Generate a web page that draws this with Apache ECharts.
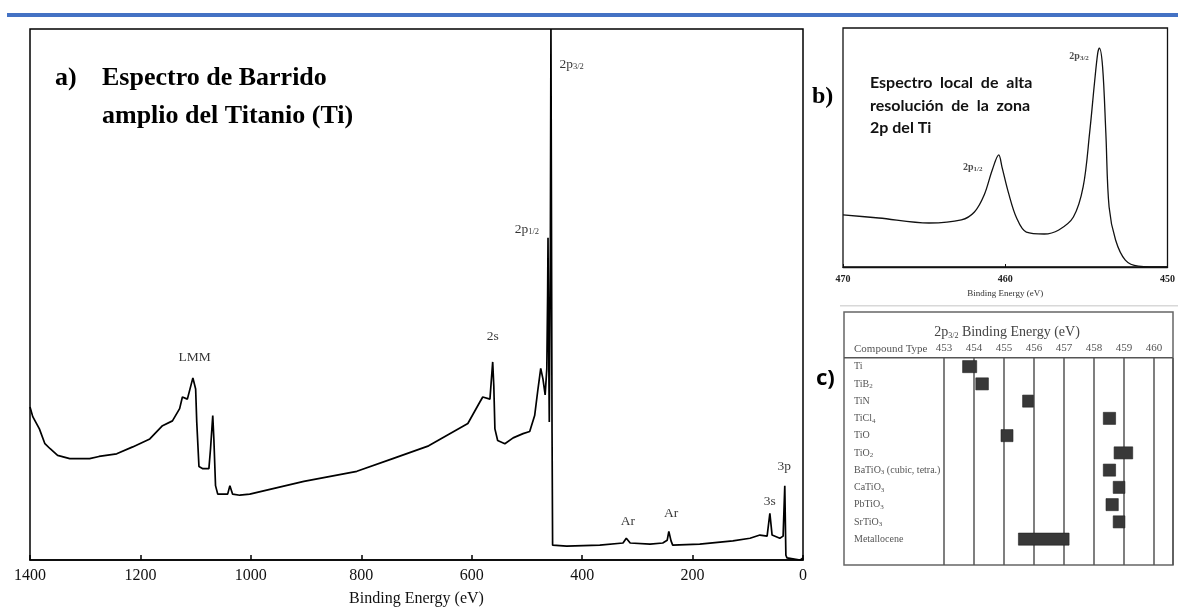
<!DOCTYPE html>
<html><head><meta charset="utf-8">
<script src="https://cdn.jsdelivr.net/npm/echarts@6/dist/echarts.min.js"></script>
<style>html,body{margin:0;padding:0;background:#fff}#c{width:1178px;height:612px}</style>
</head><body><div id="c"></div>
<script>
// ---------- Panel a: wide survey spectrum ----------
const surveyBE = [1400,1395,1383,1373,1364,1350,1328,1292,1275,1243,1214,1183,1160,1142,1129,1124,1115,1105,1100,1098,1094,1087,1076,1073,1069,1067,1064,1060,1042,1038,1033,1020,1002,904,808,743,678,607,585,580,567,562,560,558,553,540,525,507,495,486,480,475,471,467,464,462.5,461.8,461,459.5,458.5,457.5,456.5,455.5,454.5,453.5,428,368,326,320,313,277,254,246,243,239,236,187,127,96,78,65,60,56,42,36,33,31,29,5,0];
const surveyCounts = [28.8,27.0,24.7,21.9,21.0,19.7,19.1,19.1,19.5,20.0,21.3,22.8,25.3,26.2,28.5,30.7,30.3,34.3,32.2,26.0,17.6,17.2,17.2,21.0,27.2,22.8,14.0,12.4,12.4,14.0,12.4,12.2,12.4,14.8,16.7,19.1,21.5,25.7,29.8,30.7,30.3,37.3,32.8,24.7,22.5,21.9,23.0,23.8,24.2,27.2,32.2,36.1,34.1,31.1,36.0,50,60.7,45,26,26,60,100,100,24,2.8,2.6,2.8,3.2,4.1,3.2,3.0,3.2,3.7,5.4,3.6,2.8,3.0,3.6,4.1,4.7,4.5,8.8,4.7,4.1,4.5,14.0,0.9,0.4,0,0.4];
const surveyTicks = [1400,1200,1000,800,600,400,200,0];
const surveyLabels = ['LMM','2s','2p1/2','2p3/2','Ar','Ar','3s','3p'];
const surveyLabelBE = [1102,562,500,419,317,239,60,34];
const surveyLabelY = [38.2,42.1,62.2,93.4,7.3,8.8,11.0,17.6];

// ---------- Panel b: high resolution Ti 2p ----------
const hiresBE = [470,467.8,464.7,462.7,461.9,461.3,460.8,460.4,460.2,459.8,459.3,458.7,457.6,456.7,455.8,455.2,454.8,454.5,454.3,454.2,454.0,453.8,453.6,453.2,452.6,451.8,450];
const hiresCounts = [21.8,20.5,18.4,19.7,23.0,30.1,40.6,46.9,41.8,31.0,20.5,14.6,13.8,15.5,20.9,33.5,56.1,77.0,89.5,91.6,83.7,56.1,25.1,11.3,2.9,0.4,0];
const hiresLabels = ['2p3/2','2p1/2'];
const hiresLabelBE = [455.45,462.0];
const hiresLabelY = [88.3,41.8];

// ---------- Panel c: 2p3/2 binding energy table ----------
const compounds = ['Ti','TiB2','TiN','TiCl4','TiO','TiO2','BaTiO3 (cubic, tetra.)','CaTiO3','PbTiO3','SrTiO3','Metallocene'];
const rangeLow  = [453.62,454.06,455.62,458.31,454.90,458.67,458.31,458.64,458.40,458.64,455.48];
const rangeHigh = [454.09,454.48,455.98,458.72,455.30,459.29,458.72,459.03,458.81,459.03,457.17];

const serif = 'Liberation Serif';
const pSub = t => t.replace(/(\d\/\d)$/, '{s|$1}');
const dSub = t => t.replace(/(\d)/g, '{s|$1}');

const chart = echarts.init(document.getElementById('c'));

const surveyData = surveyBE.map((e,i)=>[e, surveyCounts[i]]);
const hiresData = hiresBE.map((e,i)=>[e, hiresCounts[i]]);
const surveyLabelData = surveyLabels.map((t,i)=>({value:[surveyLabelBE[i], surveyLabelY[i]], name:t}));
const hiresLabelData = hiresLabels.map((t,i)=>({value:[hiresLabelBE[i], hiresLabelY[i]], name:t}));
const tableData = compounds.map((c,i)=>[rangeLow[i], rangeHigh[i], i]);

const option = {
  animation:false,
  backgroundColor:'#fff',
  grid:[
    {left:30, top:29, width:773, height:533, show:true, borderColor:'#000', borderWidth:1.5, backgroundColor:'transparent'},
    {left:843, top:28, width:330, height:239, show:true, borderColor:'#111', borderWidth:1.3, backgroundColor:'transparent'},
    {left:944, top:358, width:229, height:207, show:false}
  ],
  xAxis:[
    {gridIndex:0, type:'value', inverse:true, min:0, max:1400, interval:200,
     axisLine:{show:true, lineStyle:{color:'#000', width:1.5}},
     axisTick:{show:true, inside:true, length:5, lineStyle:{color:'#000', width:1.5}},
     axisLabel:{color:'#111', fontFamily:serif, fontSize:16, margin:8, formatter:v=>surveyTicks.includes(v)?String(v):''},
     splitLine:{show:false},
     name:'Binding Energy (eV)', nameLocation:'middle', nameGap:31,
     nameTextStyle:{color:'#111', fontFamily:serif, fontSize:16}},
    {gridIndex:1, type:'value', inverse:true, min:450, max:470, interval:10,
     axisLine:{show:true, lineStyle:{color:'#111', width:1.3}},
     axisTick:{show:true, inside:true, length:3, lineStyle:{color:'#111'}},
     axisLabel:{color:'#222', fontFamily:serif, fontSize:10, fontWeight:'bold', margin:7},
     splitLine:{show:false},
     name:'Binding Energy (eV)', nameLocation:'middle', nameGap:22,
     nameTextStyle:{color:'#333', fontFamily:serif, fontSize:9}},
    {gridIndex:2, type:'value', position:'top', min:453, max:460.633, interval:1,
     axisLine:{show:false}, axisTick:{show:false},
     axisLabel:{color:'#555', fontFamily:serif, fontSize:11, margin:4, showMaxLabel:false},
     splitLine:{show:true, lineStyle:{color:'#555', width:1.5}}}
  ],
  yAxis:[
    {gridIndex:0, type:'value', min:0, max:100, show:false},
    {gridIndex:1, type:'value', min:0, max:100, show:false},
    {gridIndex:2, type:'category', inverse:true, data:compounds.concat(['']),
     axisLine:{show:false}, axisTick:{show:false}, splitLine:{show:false},
     axisLabel:{interval:0, align:'left', margin:90, color:'#555', fontFamily:serif, fontSize:10,
       formatter:v=>dSub(v), rich:{s:{fontSize:7, fontFamily:serif, color:'#555', verticalAlign:'bottom', lineHeight:12}}}}
  ],
  series:[
    {type:'line', xAxisIndex:0, yAxisIndex:0, data:surveyData, showSymbol:false, symbol:'none',
     lineStyle:{color:'#000', width:1.7}, clip:true, z:3},
    {type:'scatter', xAxisIndex:0, yAxisIndex:0, data:surveyLabelData, symbolSize:1,
     itemStyle:{color:'rgba(0,0,0,0)'},
     label:{show:true, position:'inside', color:'#000', fontFamily:serif, fontSize:13.5,
       formatter:p=>pSub(p.name), rich:{s:{fontSize:8.5, fontFamily:serif, color:'#000', verticalAlign:'bottom', lineHeight:14}}}},
    {type:'line', xAxisIndex:1, yAxisIndex:1, data:hiresData, showSymbol:false, symbol:'none', smooth:0.35,
     lineStyle:{color:'#111', width:1.3}, clip:true},
    {type:'scatter', xAxisIndex:1, yAxisIndex:1, data:hiresLabelData, symbolSize:1,
     itemStyle:{color:'rgba(0,0,0,0)'},
     label:{show:true, position:'inside', color:'#222', fontFamily:serif, fontSize:10, fontWeight:'bold',
       formatter:p=>pSub(p.name), rich:{s:{fontSize:7, fontFamily:serif, fontWeight:'bold', color:'#222', verticalAlign:'bottom', lineHeight:11}}}},
    {type:'custom', xAxisIndex:2, yAxisIndex:2, data:tableData, encode:{x:[0,1], y:2},
     renderItem:function(params, api){
       const lo = api.coord([api.value(0), api.value(2)]);
       const hi = api.coord([api.value(1), api.value(2)]);
       const h = api.size([0,1])[1]*0.7;
       return {type:'rect', shape:{x:lo[0], y:lo[1]-h/2, width:hi[0]-lo[0], height:h},
               style:{fill:'#383838', stroke:'#222', lineWidth:0.6}};
     }}
  ],
  graphic:[
    {type:'rect', shape:{x:7, y:13, width:1171, height:4}, style:{fill:'#4472C4'}, silent:true},
    {type:'text', x:55, y:78, style:{text:'a)', fill:'#000', fontFamily:serif, fontSize:26, fontWeight:'bold', verticalAlign:'middle'}},
    {type:'text', x:102, y:78, style:{text:'Espectro de Barrido', fill:'#000', fontFamily:serif, fontSize:26, fontWeight:'bold', verticalAlign:'middle'}},
    {type:'text', x:102, y:116, style:{text:'amplio del Titanio (Ti)', fill:'#000', fontFamily:serif, fontSize:26, fontWeight:'bold', verticalAlign:'middle'}},
    {type:'text', x:812, y:97, style:{text:'b)', fill:'#000', fontFamily:serif, fontSize:24, fontWeight:'bold', verticalAlign:'middle'}},
    {type:'text', x:870, y:83, style:{text:'Espectro  local  de  alta', fill:'#111', fontFamily:'Lato', fontSize:16, fontWeight:'bold', verticalAlign:'middle'}},
    {type:'text', x:870, y:106, style:{text:'resolución  de  la  zona', fill:'#111', fontFamily:'Lato', fontSize:16, fontWeight:'bold', verticalAlign:'middle'}},
    {type:'text', x:870, y:128, style:{text:'2p del Ti', fill:'#111', fontFamily:'Lato', fontSize:16, fontWeight:'bold', verticalAlign:'middle'}},
    {type:'rect', shape:{x:840, y:305, width:338, height:1.5}, style:{fill:'#d8d8d8'}, silent:true},
    {type:'text', x:816, y:379, style:{text:'c)', fill:'#000', fontFamily:'Noto Sans', fontSize:22, fontWeight:'bold', verticalAlign:'middle'}},
    {type:'rect', shape:{x:844, y:312, width:329, height:253}, style:{fill:'none', stroke:'#666', lineWidth:1.5}, silent:true},
    {type:'rect', shape:{x:844, y:357, width:329, height:1.5}, style:{fill:'#555'}, silent:true},
    {type:'text', x:1007, y:332, style:{text:'2p{s|3/2} Binding Energy (eV)', fill:'#444', fontFamily:serif, fontSize:14, align:'center', verticalAlign:'middle',
      rich:{s:{fontSize:8, fontFamily:serif, fill:'#444', verticalAlign:'bottom', lineHeight:16}}}},
    {type:'text', x:854, y:349, style:{text:'Compound Type', fill:'#555', fontFamily:serif, fontSize:11, verticalAlign:'middle'}}
  ]
};
chart.setOption(option);
</script></body></html>
